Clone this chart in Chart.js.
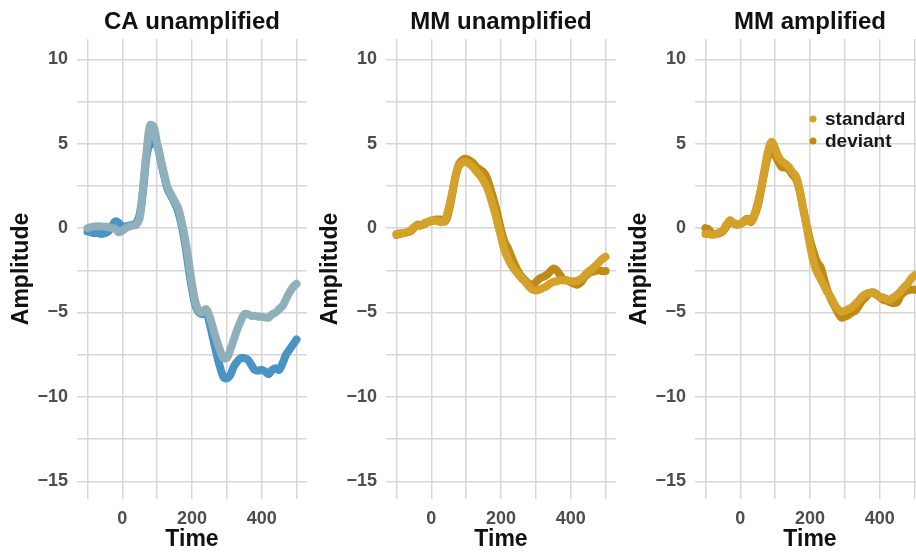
<!DOCTYPE html>
<html>
<head>
<meta charset="utf-8">
<script src="https://cdn.jsdelivr.net/npm/chart.js@4.4.0/dist/chart.umd.min.js"></script>
<style>
  html, body { margin: 0; padding: 0; background: #fff; overflow: hidden; }
  #panels { position: relative; width: 927px; height: 552px; }
  #panels canvas { position: absolute; top: 0; }
</style>
</head>
<body>
<div id="panels">
  <canvas id="ca" width="309" height="552" style="left:0"></canvas>
  <canvas id="mmUnamp" width="309" height="552" style="left:309px"></canvas>
  <canvas id="mmAmp" width="309" height="552" style="left:618px"></canvas>
</div>
<script>
// ERP averages, sampled every 10 ms
const times = [-100, -90, -80, -70, -60, -50, -40, -30, -20, -10,
  0, 10, 20, 30, 40, 50, 60, 70, 80, 90,
  100, 110, 120, 130, 140, 150, 160, 170, 180, 190,
  200, 210, 220, 230, 240, 250, 260, 270, 280, 290,
  300, 310, 320, 330, 340, 350, 360, 370, 380, 390,
  400, 410, 420, 430, 440, 450, 460, 470, 480, 490,
  500];

const caStandard = [0.0, 0.05, 0.1, 0.1, 0.1, 0.08, 0.05, 0.0, -0.05, -0.25,
  -0.15, 0.0, 0.1, 0.15, 0.2, 0.6, 2.5, 4.6, 6.1, 6.0,
  5.0, 4.1, 3.2, 2.4, 2.0, 1.6, 1.2, 0.4, -0.6, -1.9,
  -3.3, -4.4, -4.9, -5.0, -4.8, -5.2, -5.9, -6.6, -7.2, -7.7,
  -7.7, -7.2, -6.6, -6.0, -5.5, -5.1, -5.1, -5.2, -5.2, -5.25,
  -5.25, -5.3, -5.3, -5.1, -5.0, -4.8, -4.6, -4.2, -3.8, -3.5,
  -3.3];
const caDeviant = [-0.2, -0.25, -0.3, -0.3, -0.35, -0.3, -0.2, 0.1, 0.4, 0.3,
  0.05, 0.1, 0.15, 0.2, 0.3, 0.8, 2.3, 4.3, 5.0, 5.0,
  4.9, 4.0, 3.1, 2.3, 1.9, 1.5, 1.0, 0.2, -0.9, -2.3,
  -3.6, -4.6, -5.0, -5.1, -4.9, -5.6, -6.5, -7.4, -8.2, -8.8,
  -8.9, -8.7, -8.2, -7.9, -7.7, -7.7, -7.8, -8.1, -8.4, -8.45,
  -8.4, -8.5, -8.65, -8.4, -8.3, -8.4, -8.0, -7.5, -7.2, -6.9,
  -6.6];

const mmUnampStandard = [-0.35, -0.3, -0.3, -0.25, -0.15, 0.05, 0.15, 0.15, 0.3, 0.35,
  0.45, 0.45, 0.4, 0.35, 0.5, 1.2, 2.1, 3.1, 3.7, 3.9,
  3.9, 3.8, 3.6, 3.35, 3.1, 2.8, 2.4, 1.8, 1.1, 0.3,
  -0.5, -1.3, -1.8, -2.2, -2.5, -2.75, -3.0, -3.2, -3.45, -3.65,
  -3.7, -3.65, -3.55, -3.45, -3.3, -3.2, -3.15, -3.1, -3.1, -3.1,
  -3.15, -3.15, -3.1, -3.0, -2.8, -2.6, -2.45, -2.25, -2.05, -1.85,
  -1.7];
const mmUnampDeviant = [-0.4, -0.35, -0.3, -0.25, -0.2, 0.0, 0.2, 0.15, 0.25, 0.35,
  0.4, 0.5, 0.5, 0.5, 0.4, 1.0, 2.0, 3.1, 3.8, 4.05,
  4.1, 4.0, 3.85, 3.6, 3.45, 3.3, 2.95, 2.3, 1.6, 0.8,
  -0.1, -0.8, -1.2, -1.7, -2.2, -2.6, -2.9, -3.1, -3.3, -3.4,
  -3.2, -3.0, -2.9, -2.8, -2.6, -2.4, -2.5, -2.8, -3.05, -3.1,
  -3.2, -3.3, -3.35, -3.2, -2.9, -2.7, -2.6, -2.55, -2.5, -2.55,
  -2.55];

const mmAmpStandard = [-0.35, -0.35, -0.4, -0.35, -0.25, -0.15, 0.2, 0.4, 0.3, 0.25,
  0.25, 0.35, 0.5, 0.4, 0.8, 1.5, 2.4, 3.5, 4.6, 5.1,
  4.7, 4.2, 3.95, 3.8, 3.6, 3.3, 3.05, 2.3, 1.2, 0.1,
  -1.0, -2.0, -2.6, -3.0, -3.4, -3.8, -4.1, -4.5, -4.8, -4.95,
  -4.9, -4.8, -4.7, -4.5, -4.3, -4.05, -3.9, -3.85, -3.85, -3.95,
  -4.1, -4.1, -4.2, -4.25, -4.1, -3.95, -3.75, -3.5, -3.3, -3.0,
  -2.8];
const mmAmpDeviant = [0.0, -0.1, -0.35, -0.35, -0.3, -0.2, 0.1, 0.45, 0.3, 0.2,
  0.25, 0.4, 0.55, 0.35, 0.7, 1.3, 2.3, 3.4, 4.3, 4.7,
  4.3, 3.9, 3.6, 3.6, 3.45, 3.15, 2.9, 2.2, 1.2, 0.2,
  -0.7, -1.4, -2.0, -2.3, -3.0, -3.7, -4.2, -4.6, -5.0, -5.3,
  -5.25, -5.15, -5.0, -4.9, -4.6, -4.3, -4.1, -3.85, -3.8, -3.9,
  -4.1, -4.25, -4.3, -4.4, -4.45, -4.4, -4.0, -3.8, -3.7, -3.65,
  -3.65];

// grid positions and which of them carry a label
const timeGrid = [-100, 0, 100, 200, 300, 400, 500];
const timeLabels = [0, 200, 400];
const ampGrid = [-15, -12.5, -10, -7.5, -5, -2.5, 0, 2.5, 5, 7.5, 10];
const ampLabels = [-15, -10, -5, 0, 5, 10];

const FONT = '"Liberation Sans", Arial, Helvetica, sans-serif';
Chart.defaults.font.family = FONT;

// small dot key drawn inside the plot area
const dotKey = {
  id: 'dotKey',
  afterDatasetsDraw(chart, args, opts) {
    if (!opts.show) return;
    const { ctx, chartArea } = chart;
    ctx.save();
    ctx.font = 'bold 19px ' + FONT;
    ctx.textBaseline = 'middle';
    chart.data.datasets.forEach((ds, i) => {
      const x = chartArea.left + 118;
      const y = chartArea.top + 80 + i * 22;
      ctx.fillStyle = ds.borderColor;
      ctx.beginPath();
      ctx.arc(x, y, 3.5, 0, Math.PI * 2);
      ctx.fill();
      ctx.fillStyle = '#1a1a1a';
      ctx.fillText(ds.label, x + 12, y + 1);
    });
    ctx.restore();
  }
};

function toPoints(values) {
  return times.map((t, i) => ({ x: t, y: values[i] }));
}

function line(label, values, color) {
  return {
    label: label,
    data: toPoints(values),
    borderColor: color,
    backgroundColor: color,
    borderWidth: 8,
    borderCapStyle: 'round',
    borderJoinStyle: 'round',
    pointRadius: 0,
    tension: 0.4,
    fill: false
  };
}

const gridColor = '#d6d6d6';

function makePanel(id, title, datasets, showKey) {
  return new Chart(document.getElementById(id), {
    type: 'line',
    data: { datasets: datasets },
    options: {
      responsive: false,
      animation: false,
      layout: { padding: { left: 0, right: 2, top: 0, bottom: 0 } },
      plugins: {
        legend: { display: false },
        tooltip: { enabled: false },
        dotKey: { show: showKey }
      },
      scales: {
        head: {
          type: 'linear',
          position: 'top',
          min: -130,
          max: 530,
          grid: { display: false },
          border: { display: false },
          ticks: { display: false },
          title: {
            display: true,
            text: title,
            color: '#111',
            font: { size: 24, weight: 'bold' },
            padding: { top: 8, bottom: 0 }
          },
          afterFit: (s) => { s.height = 39; }
        },
        x: {
          type: 'linear',
          position: 'bottom',
          min: -130,
          max: 530,
          afterBuildTicks: (s) => { s.ticks = timeGrid.map(v => ({ value: v })); },
          grid: { color: gridColor, lineWidth: 1.5, drawTicks: false },
          border: { display: false },
          ticks: {
            autoSkip: false,
            maxRotation: 0,
            padding: 9,
            color: '#4d4d4d',
            font: { size: 18, weight: 'bold' },
            callback: (v) => timeLabels.includes(v) ? String(v) : ''
          },
          title: {
            display: true,
            text: 'Time',
            color: '#111',
            font: { size: 23, weight: 'bold', lineHeight: 1.0 },
            padding: { top: 0, bottom: 1 }
          },
          afterFit: (s) => { s.height = 53; }
        },
        y: {
          type: 'linear',
          min: -16.05,
          max: 11.2,
          afterBuildTicks: (s) => { s.ticks = ampGrid.map(v => ({ value: v })); },
          grid: { color: gridColor, lineWidth: 1.5, drawTicks: false },
          border: { display: false },
          ticks: {
            autoSkip: false,
            padding: 9,
            color: '#4d4d4d',
            font: { size: 18, weight: 'bold' },
            callback: (v) => ampLabels.includes(v) ? String(v).replace('-', '\u2212') : ''
          },
          title: {
            display: true,
            text: 'Amplitude',
            color: '#111',
            font: { size: 23, weight: 'bold' },
            padding: { top: 8, bottom: 0 }
          },
          afterFit: (s) => { s.width = 77; }
        }
      }
    },
    plugins: [dotKey]
  });
}

makePanel('ca', 'CA unamplified', [
  line('standard', caStandard, '#8fb0ba'),
  line('deviant', caDeviant, '#4a93c2')
], false);

makePanel('mmUnamp', 'MM unamplified', [
  line('standard', mmUnampStandard, '#d4a12b'),
  line('deviant', mmUnampDeviant, '#bf8a15')
], false);

makePanel('mmAmp', 'MM amplified', [
  line('standard', mmAmpStandard, '#d4a12b'),
  line('deviant', mmAmpDeviant, '#bf8a15')
], true);
</script>
</body>
</html>
